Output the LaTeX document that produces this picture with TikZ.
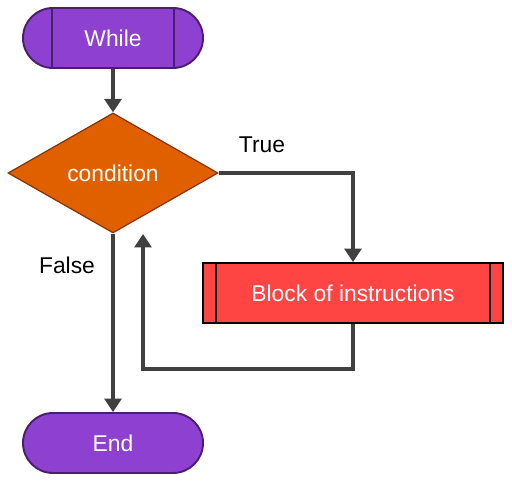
\documentclass[tikz,border=0pt]{standalone}
\usepackage{fontspec}
\setmainfont{Liberation Sans}
\usetikzlibrary{shapes.geometric, arrows.meta}

\definecolor{termfill}{HTML}{8E40D0}
\definecolor{termdraw}{HTML}{4B1F70}
\definecolor{condfill}{HTML}{E06000}
\definecolor{conddraw}{HTML}{8A3300}
\definecolor{blockfill}{HTML}{FF4444}
\definecolor{flowgray}{HTML}{404040}

\tikzset{
  terminal/.style={rectangle, rounded corners=0.6cm, minimum width=3.6cm, minimum height=1.2cm,
    fill=termfill, draw=termdraw, line width=1.1pt, text=white},
  termline/.style={draw=termdraw, line width=1.1pt},
  decision/.style={diamond, aspect=1.75, minimum width=4.2cm, minimum height=2.4cm, inner sep=0pt,
    fill=condfill, draw=conddraw, line width=0.7pt, text=white},
  process/.style={rectangle, minimum width=6cm, minimum height=1.2cm,
    fill=blockfill, draw=black, line width=1.1pt, text=white},
  flow/.style={draw=flowgray, line width=2.3pt, -{Triangle[width=0.34cm,length=0.27cm]}},
  lab/.style={text=black}
}

\begin{document}
\begin{tikzpicture}[font=\fontsize{13pt}{15pt}\selectfont]
\useasboundingbox (0,0) rectangle (10.24,9.62);
% nodes
\node[terminal] (while) at (2.26,8.86) {While};
\draw[termline] ([xshift=0.6cm]while.north west) -- ([xshift=0.6cm]while.south west);
\draw[termline] ([xshift=-0.6cm]while.north east) -- ([xshift=-0.6cm]while.south east);
\node[decision] (cond) at (2.26,6.16) {condition};
\node[process] (block) at (7.06,3.76) {Block of instructions};
\draw[line width=1.1pt] ([xshift=0.28cm]block.north west) -- ([xshift=0.28cm]block.south west);
\draw[line width=1.1pt] ([xshift=-0.28cm]block.north east) -- ([xshift=-0.28cm]block.south east);
\node[terminal] (end) at (2.26,0.76) {End};
\coordinate (back) at (2.86,4.94);
% connectors
\draw[flow] (while) -- (cond);
\draw[flow] (cond.east) -| (block.north);
\draw[flow] (block.south) -- ++(0,-0.9) -| (back);
\draw[flow] (cond) -- (end);
% labels
\node[lab] (true) at (5.24,6.72) {True};
\node[lab] (false) at (1.34,4.32) {False};
\end{tikzpicture}
\end{document}
